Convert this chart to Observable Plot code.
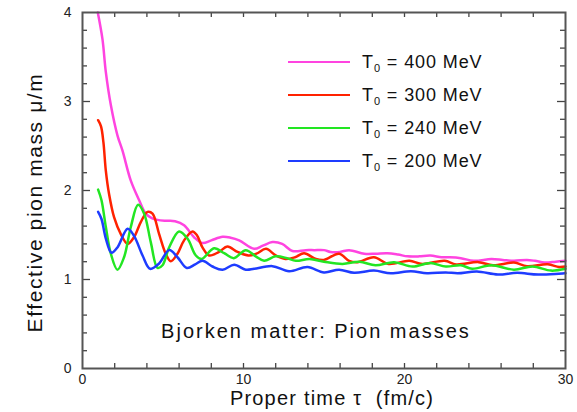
<!DOCTYPE html>
<html><head><meta charset="utf-8">
<script src="https://cdn.jsdelivr.net/npm/d3@7"></script>
<script src="https://cdn.jsdelivr.net/npm/@observablehq/plot@0.6"></script>
<style>
body{margin:0;background:#fff;font-family:"Liberation Sans",Arial,Helvetica,sans-serif;}
#wrap{position:relative;width:577px;height:412px;}
.lg{position:absolute;left:0;top:0;}
.lg .ln{position:absolute;width:62px;height:2.5px;}
.lg .tx{position:absolute;font-size:18px;color:#111;white-space:nowrap;line-height:18px;letter-spacing:0.9px;}
.lg sub{font-size:11px;vertical-align:-4px;line-height:0;}
</style></head><body><div id="wrap"></div>
<script>
// ---- data ----
const temps = ["400", "300", "240", "200"];
const colors = ["#ff44e0", "#ff2200", "#22e622", "#1e3cff"];

const x400 = [0.95,1.24,1.45,1.76,2.17,2.48,3.0,3.52,3.93,4.3,4.66,5.2,5.75,6.31,6.93,7.45,8.0,8.7,9.2,9.73,10.66,11.2,11.8,12.4,13.04,13.87,14.4,15.0,15.4,16.0,16.56,17.5,18.2,18.94,19.6,20.2,20.9,21.6,22.3,22.8,23.5,24.3,25.4,26.1,26.8,27.6,28.1,28.7,29.4,30];
const y400 = [4.0,3.70,3.33,2.96,2.62,2.45,2.11,1.89,1.74,1.69,1.67,1.66,1.655,1.61,1.475,1.41,1.44,1.48,1.47,1.44,1.345,1.38,1.42,1.40,1.32,1.33,1.33,1.33,1.31,1.31,1.33,1.29,1.29,1.295,1.28,1.26,1.26,1.27,1.25,1.25,1.24,1.21,1.23,1.22,1.21,1.22,1.21,1.19,1.20,1.21];

const x300 = [0.97,1.15,1.3,1.45,1.65,1.96,2.38,2.8,3.2,3.62,4.04,4.35,4.76,5.17,5.48,5.9,6.31,6.83,7.1,7.45,7.86,8.48,9.0,9.63,10.3,10.8,11.4,12.0,12.6,13.2,13.76,14.5,15.0,15.94,16.56,17.08,18.1,19.0,20.3,21.1,22.5,23.2,24.6,25.5,26.8,27.6,28.9,29.6,30];
const y300 = [2.79,2.72,2.54,2.22,1.96,1.70,1.51,1.40,1.475,1.645,1.76,1.74,1.51,1.29,1.205,1.29,1.44,1.54,1.50,1.36,1.27,1.31,1.37,1.31,1.27,1.29,1.345,1.27,1.23,1.25,1.295,1.23,1.22,1.29,1.21,1.195,1.25,1.175,1.21,1.175,1.21,1.17,1.195,1.16,1.19,1.15,1.17,1.14,1.145];

const x240 = [0.97,1.18,1.45,1.76,2.17,2.58,3.0,3.45,3.83,4.24,4.66,4.97,5.38,6.0,6.52,7.04,7.4,8.17,8.8,9.4,10.14,10.76,11.28,12.0,12.7,13.25,14.1,15.0,16.15,17.2,18.2,19.35,20.5,21.6,22.57,23.5,24.2,25.4,26.8,27.95,29.1,30];
const y240 = [2.01,1.89,1.59,1.29,1.11,1.25,1.59,1.84,1.74,1.42,1.13,1.16,1.36,1.54,1.46,1.27,1.23,1.35,1.295,1.24,1.33,1.26,1.21,1.26,1.24,1.21,1.23,1.20,1.175,1.20,1.16,1.195,1.145,1.185,1.145,1.16,1.12,1.16,1.11,1.146,1.10,1.12];

const x200 = [0.97,1.18,1.45,1.8,2.17,2.8,3.2,3.73,4.2,4.76,5.38,5.9,6.48,7.0,7.45,8.07,8.7,9.42,10.14,10.66,11.8,12.83,13.97,15.0,15.94,16.87,18.1,19.15,20.4,21.4,22.57,23.3,24.5,25.8,27.0,28.3,30];
const y200 = [1.76,1.68,1.46,1.30,1.36,1.57,1.49,1.27,1.12,1.18,1.33,1.25,1.13,1.17,1.21,1.146,1.11,1.165,1.11,1.12,1.15,1.093,1.14,1.08,1.11,1.075,1.10,1.07,1.093,1.07,1.08,1.07,1.09,1.056,1.075,1.056,1.07];

const xTickLabels = [0, 10, 20, 30];
const yTickLabels = [0, 1, 2, 3, 4];
const xTitle = "Proper time \u03c4  (fm/c)";
const yTitle = "Effective pion mass \u03bc/m";
const note = "Bjorken matter: Pion masses";

// ---- build ----
const xs = [x400, x300, x240, x200], ys = [y400, y300, y240, y200];
const rows = [];
temps.forEach((t, k) => xs[k].forEach((x, i) => rows.push({series: t, x, y: ys[k][i]})));

const W = 577, H = 412, mt = 12, mr = 12, mb = 44, ml = 82;
const pw = W - ml - mr, ph = H - mt - mb;
const xMinor = d3.range(2, 30, 2);
const yMinor = d3.range(1, 20).map(i => i / 5).filter(v => Math.abs(v - Math.round(v)) > 1e-9);
const yMajor = [1, 2, 3];
const tk = {stroke: "#444", strokeWidth: 1.3};

const chart = Plot.plot({
  width: W, height: H, marginTop: mt, marginRight: mr, marginBottom: mb, marginLeft: ml,
  x: {domain: [0, 30]},
  y: {domain: [0, 4]},
  color: {domain: temps, range: colors},
  style: {fontFamily: '"Liberation Sans", Arial, Helvetica, sans-serif', background: "white", color: "#222"},
  marks: [
    Plot.line(rows, {x: "x", y: "y", z: "series", stroke: "series", strokeWidth: 2.5, curve: "catmull-rom"}),
    Plot.tickX(xMinor, {x: d => d, insetTop: ph - 5, ...tk}),
    Plot.tickX(xMinor, {x: d => d, insetBottom: ph - 5, ...tk}),
    Plot.tickY(yMinor, {y: d => d, insetRight: pw - 5, ...tk}),
    Plot.tickY(yMinor, {y: d => d, insetLeft: pw - 5, ...tk}),
    Plot.tickY(yMajor, {y: d => d, insetRight: pw - 8, ...tk}),
    Plot.tickY(yMajor, {y: d => d, insetLeft: pw - 8, ...tk}),
    Plot.frame({stroke: "#555", strokeWidth: 2}),
    Plot.axisX(xTickLabels, {tickSize: 0, tickPadding: 6, fontSize: 14, label: null, tickFormat: d => String(d)}),
    Plot.axisY(yTickLabels, {tickSize: 0, tickPadding: 11, fontSize: 14, label: null, tickFormat: d => String(d)}),
    Plot.text([xTitle], {frameAnchor: "bottom", lineAnchor: "bottom", textAnchor: "middle", dx: 8, dy: 36, fontSize: 20, fill: "#111"}),
    Plot.text([yTitle], {frameAnchor: "left", textAnchor: "middle", lineAnchor: "middle", rotate: -90, dx: -47, dy: 12, fontSize: 21, fill: "#111"}),
    Plot.text([note], {x: 14.5, y: 0.42, fontSize: 20, fill: "#111"})
  ]
});
const wrap = document.getElementById("wrap");
wrap.appendChild(chart);

// widen the title texts a little to match the reference typeface width
const spacing = new Map([[xTitle, "1.2px"], [yTitle, "1.6px"], [note, "2px"]]);
d3.select(chart).selectAll("text").each(function () {
  const s = spacing.get(this.textContent);
  if (s) this.style.letterSpacing = s;
});

// legend overlay
const lg = document.createElement("div");
lg.className = "lg";
temps.forEach((t, i) => {
  const cy = 62 + i * 33;
  const ln = document.createElement("div");
  ln.className = "ln";
  ln.style.left = "288px"; ln.style.top = (cy - 1.25) + "px"; ln.style.background = colors[i];
  const tx = document.createElement("div");
  tx.className = "tx";
  tx.style.left = "362px"; tx.style.top = (cy - 9) + "px";
  tx.innerHTML = "T<sub>0</sub> = " + t + " MeV";
  lg.appendChild(ln); lg.appendChild(tx);
});
wrap.appendChild(lg);
</script>
</body></html>
